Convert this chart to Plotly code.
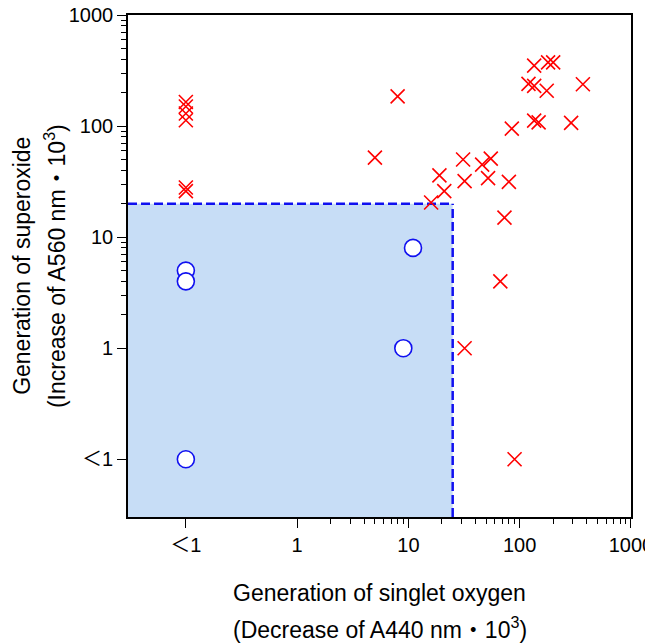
import plotly.graph_objects as go

# ---- data ----
LT1 = 0.1  # position used for the "<1" category
cross_x = [LT1, LT1, LT1, LT1, LT1, LT1,
           5, 8, 16, 19, 21, 31, 32, 46, 52, 55, 80, 73, 67, 32, 90,
           85, 135, 148, 290, 120, 135, 175, 370, 135, 180, 200]
cross_y = [165, 150, 130, 113, 28, 26,
           52, 185, 20.5, 36, 26, 50, 32, 45, 34, 51, 31.5, 15, 4, 1, LT1,
           95, 112, 108, 107, 240, 230, 208, 238, 350, 375, 375]
circle_x = [LT1, LT1, LT1, 11, 9]
circle_y = [5, 4, LT1, 8, 1]

x_threshold = 25
y_threshold = 20

tick_vals = [0.1, 1, 10, 100, 1000]
tick_text = ["＜1", "1", "10", "100", "1000"]
minor_vals = [m * d for d in (1, 10, 100) for m in range(2, 10)]

x_range_log = [-1.52, 3.0005]
y_range_log = [-1.52, 3.0005]

FONT = "Liberation Sans, Arial, Noto Sans CJK JP, sans-serif"
BLUE = "#1010F0"

fig = go.Figure()

fig.add_trace(go.Scatter(
    x=cross_x, y=cross_y, mode="markers",
    marker=dict(symbol="x-thin", size=14, line=dict(color="#FF0000", width=1.6)),
    showlegend=False, cliponaxis=False))
fig.add_trace(go.Scatter(
    x=circle_x, y=circle_y, mode="markers",
    marker=dict(symbol="circle", size=17, color="white", line=dict(color=BLUE, width=1.6)),
    showlegend=False, cliponaxis=False))

x_min = 10 ** x_range_log[0]
y_min = 10 ** y_range_log[0]
fig.add_shape(type="rect", xref="x", yref="y", x0=x_min, x1=x_threshold, y0=y_min, y1=y_threshold,
              fillcolor="#C7DDF6", line=dict(width=0), layer="below")
fig.add_shape(type="line", xref="x", yref="y", x0=x_min, x1=x_threshold, y0=y_threshold, y1=y_threshold,
              line=dict(color=BLUE, width=2.5, dash="9px,4px"), layer="below")
fig.add_shape(type="line", xref="x", yref="y", x0=x_threshold, x1=x_threshold, y0=y_min, y1=y_threshold,
              line=dict(color=BLUE, width=2.5, dash="9px,4px"), layer="below")

axis_common = dict(
    type="log", tickmode="array", tickvals=tick_vals, ticktext=tick_text,
    ticks="outside", ticklen=9, tickwidth=1.3, tickcolor="black",
    showline=True, linecolor="black", linewidth=1.6, mirror=True,
    showgrid=False, zeroline=False, automargin=False,
    ticklabeloverflow="allow",
    tickfont=dict(family=FONT, size=20, color="black"),
    minor=dict(tickmode="array", tickvals=minor_vals, ticks="outside",
               ticklen=5, tickwidth=1.1, tickcolor="black", showgrid=False),
)
fig.update_xaxes(range=x_range_log, **axis_common)
fig.update_yaxes(range=y_range_log, **axis_common)

title_font = dict(family=FONT, size=23, color="black")
fig.add_annotation(text="Generation of singlet oxygen", xref="paper", yref="paper",
                   x=0.5, y=-0.151, showarrow=False, font=title_font,
                   xanchor="center", yanchor="middle")
fig.add_annotation(text="(Decrease of A440 nm・10<sup>3</sup>)", xref="paper", yref="paper",
                   x=0.5, y=-0.221, showarrow=False, font=title_font,
                   xanchor="center", yanchor="middle")
fig.add_annotation(text="Generation of superoxide", xref="paper", yref="paper",
                   x=-0.211, y=0.5, showarrow=False, font=title_font, textangle=-90,
                   xanchor="center", yanchor="middle")
fig.add_annotation(text="(Increase of A560 nm・10<sup>3</sup>)", xref="paper", yref="paper",
                   x=-0.145, y=0.5, showarrow=False, font=title_font, textangle=-90,
                   xanchor="center", yanchor="middle")

# page body has an 8px default margin, so the figure is sized to fit the window
fig.update_layout(
    width=645, height=635,
    margin=dict(l=120, r=22, t=7, b=126, autoexpand=False),
    plot_bgcolor="white", paper_bgcolor="white",
    font=dict(family=FONT, color="black"),
)

fig.write_html("out.html")
